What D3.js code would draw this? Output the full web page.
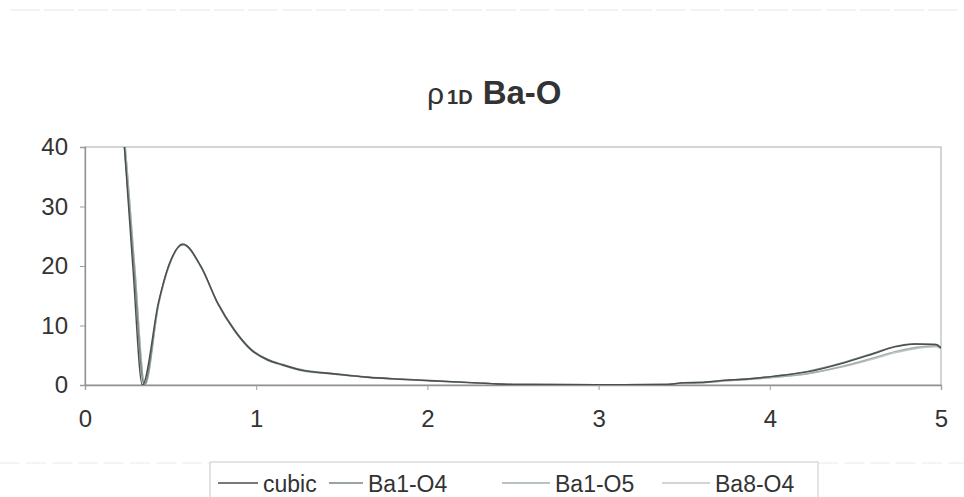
<!DOCTYPE html>
<html><head><meta charset="utf-8">
<script src="https://cdn.jsdelivr.net/npm/d3@7"></script>
<style>body{margin:0;background:#fff}svg{display:block}</style>
</head><body>
<script>
const seriesNames = ["cubic", "Ba1-O4", "Ba1-O5", "Ba8-O4"];
const xTicks = [0, 1, 2, 3, 4, 5];
const yTicks = [0, 10, 20, 30, 40];
const cubicX = [0.20,0.23,0.279,0.335,0.43,0.493,0.571,0.678,0.776,0.873,0.971,1.068,1.15,1.26,1.46,1.65,1.85,2.02,2.26,2.5,3.0,3.4,3.5,3.6,3.7,3.9,4.03,4.22,4.42,4.61,4.73,4.85,4.97,5.0];
const cubicY = [52,40,20,0,14.0,20.4,23.7,19.9,13.7,9.2,5.9,4.2,3.4,2.5,1.85,1.3,0.95,0.72,0.4,0.1,0.05,0.1,0.4,0.45,0.7,1.1,1.5,2.2,3.6,5.3,6.4,6.9,6.8,6.2];
const ba1o4X = [0.20,0.23,0.285,0.345,0.43,0.493,0.571,0.678,0.776,0.873,0.971,1.068,1.15,1.26,1.46,1.65,1.85,2.02,2.26,2.5,3.0,3.4,3.5,3.6,3.7,3.9,4.03,4.22,4.42,4.61,4.73,4.85,4.97,5.0];
const ba1o4Y = [52,40,20,0,13.8,20.3,23.6,19.8,13.8,9.3,6.0,4.3,3.5,2.6,1.9,1.35,1.0,0.75,0.4,0.1,0.05,0.1,0.35,0.4,0.7,1.1,1.5,2.3,3.7,5.4,6.5,6.9,6.8,6.3];
const ba1o5X = [0.20,0.235,0.29,0.35,0.43,0.493,0.571,0.678,0.776,0.873,0.971,1.068,1.15,1.26,1.46,1.65,1.85,2.02,2.26,2.5,3.0,3.4,3.5,3.6,3.7,3.9,4.03,4.22,4.42,4.61,4.73,4.85,4.97,5.0];
const ba1o5Y = [50,40,20,0,13.6,20.2,23.6,19.9,13.6,9.1,5.9,4.2,3.4,2.5,1.8,1.3,0.95,0.7,0.35,0.1,0.05,0.1,0.3,0.35,0.6,1.0,1.3,1.9,3.1,4.6,5.6,6.3,6.6,6.2];
const ba8o4X = [0.20,0.235,0.29,0.35,0.43,0.493,0.571,0.678,0.776,0.873,0.971,1.068,1.15,1.26,1.46,1.65,1.85,2.02,2.26,2.5,3.0,3.4,3.5,3.6,3.7,3.9,4.03,4.22,4.42,4.61,4.73,4.85,4.97,5.0];
const ba8o4Y = [50,40,20,0,13.5,20.1,23.5,19.8,13.6,9.1,5.8,4.1,3.3,2.4,1.8,1.25,0.9,0.7,0.35,0.1,0.05,0.1,0.3,0.35,0.6,0.95,1.3,1.9,3.0,4.4,5.4,6.1,6.4,6.0];
const seriesColors = ["#4a4e4e", "#7a8484", "#a4aeae", "#c0c9c9"];

const W = 964, H = 497;
const FONT = "Liberation Sans, Arial, sans-serif";
const svg = d3.select("body").append("svg").attr("width", W).attr("height", H);
const mL = 85, mR = 941, mT = 147, mB = 385;
const x = d3.scaleLinear().domain([0, 5]).range([mL, mR]);
const y = d3.scaleLinear().domain([0, 40]).range([mB, mT]);

// outer faint frame lines
svg.append("line").attr("x1", 10).attr("x2", 960).attr("y1", 10).attr("y2", 10)
  .attr("stroke", "#e2e6e8").attr("stroke-dasharray", "30,4");
svg.append("line").attr("x1", 0).attr("x2", 210).attr("y1", 463).attr("y2", 463)
  .attr("stroke", "#e6eaee").attr("stroke-dasharray", "20,6");
svg.append("line").attr("x1", 818).attr("x2", 964).attr("y1", 463).attr("y2", 463)
  .attr("stroke", "#e6eaee").attr("stroke-dasharray", "20,6");

// title
const title = svg.append("text").attr("x", 427).attr("y", 104)
  .attr("font-family", FONT).attr("fill", "#333");
title.append("tspan").attr("font-size", 30).text("ρ");
title.append("tspan").attr("font-size", 20).attr("font-weight", "bold").attr("dx", 3).text("1D");
title.append("tspan").attr("font-size", 33).attr("font-weight", "bold").attr("dx", 10).text("Ba-O");

// plot frame
svg.append("rect").attr("x", mL).attr("y", mT).attr("width", mR - mL).attr("height", mB - mT)
  .attr("fill", "none").attr("stroke", "#a8acac").attr("stroke-width", 1);

// axes
const gx = svg.append("g").attr("transform", `translate(0,${mB})`)
  .call(d3.axisBottom(x).tickValues(xTicks).tickSize(5).tickPadding(20).tickFormat(d3.format("d")));
const gy = svg.append("g").attr("transform", `translate(${mL},0)`)
  .call(d3.axisLeft(y).tickValues(yTicks).tickSize(5).tickPadding(12).tickFormat(d3.format("d")));
[gx, gy].forEach(g => {
  g.select(".domain").attr("stroke", "#8e9292").attr("stroke-width", 1.3);
  g.selectAll(".tick line").attr("stroke", "#9a9e9e");
  g.selectAll("text").attr("font-family", FONT).attr("font-size", 24).attr("fill", "#333");
});

// clip
svg.append("clipPath").attr("id", "clip").append("rect")
  .attr("x", mL).attr("y", mT).attr("width", mR - mL).attr("height", mB - mT);

const allX = [cubicX, ba1o4X, ba1o5X, ba8o4X];
const allY = [cubicY, ba1o4Y, ba1o5Y, ba8o4Y];
const line = d3.line().x(d => x(d[0])).y(d => y(d[1])).curve(d3.curveMonotoneX);
const plotG = svg.append("g").attr("clip-path", "url(#clip)");
for (let i = seriesNames.length - 1; i >= 0; i--) {
  const pts = allX[i].map((v, j) => [v, allY[i][j]]);
  plotG.append("path").datum(pts).attr("d", line).attr("fill", "none")
    .attr("stroke", seriesColors[i]).attr("stroke-width", 1.4);
}

// legend
svg.append("rect").attr("x", 210).attr("y", 462).attr("width", 608).attr("height", 50)
  .attr("fill", "#fff").attr("stroke", "#c8cccc");
const legX = [218, 329, 502, 662];
const legLen = [40, 34, 48, 48];
seriesNames.forEach((n, i) => {
  svg.append("line").attr("x1", legX[i]).attr("x2", legX[i] + legLen[i]).attr("y1", 483).attr("y2", 483)
    .attr("stroke", seriesColors[i]).attr("stroke-width", 1.6);
  svg.append("text").attr("x", legX[i] + legLen[i] + 5).attr("y", 492)
    .attr("font-family", FONT).attr("font-size", 23).attr("fill", "#333").text(n);
});
</script>
</body></html>
